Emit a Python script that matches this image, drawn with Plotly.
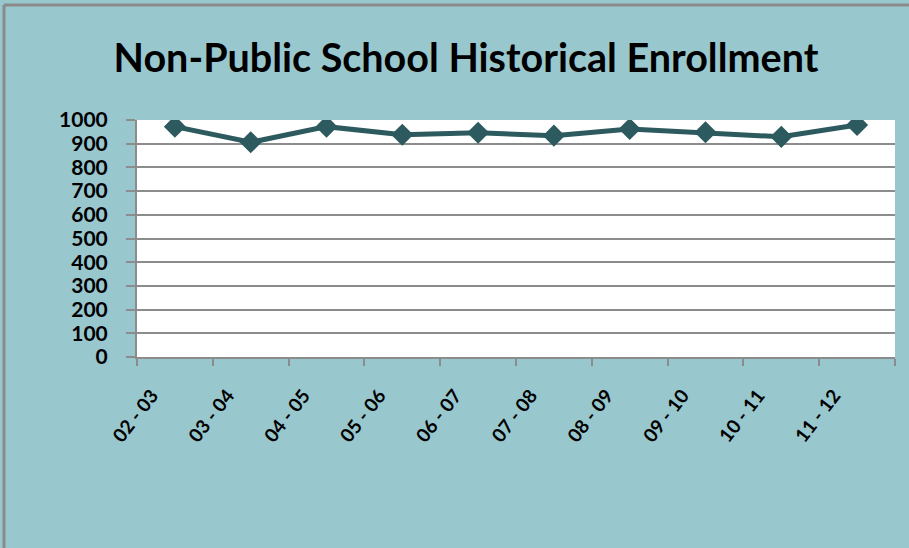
import plotly.graph_objects as go

# School years and enrollment counts
years = ["02 - 03", "03 - 04", "04 - 05", "05 - 06", "06 - 07",
         "07 - 08", "08 - 09", "09 - 10", "10 - 11", "11 - 12"]
enrollment = [972, 906, 972, 938, 946, 934, 962, 948, 929, 979]
y_ticks = [0, 100, 200, 300, 400, 500, 600, 700, 800, 900, 1000]

W, H = 909, 548
L, R, T, B = 137, 895, 120, 357  # plot area in pixels

BG = "#99C7CE"
LINE = "#2D5A5E"
GRID = "#8C8C8C"
FONT = "Lato"

fig = go.Figure()
fig.add_trace(go.Scatter(
    x=years, y=enrollment, mode="lines+markers",
    line=dict(color=LINE, width=5),
    marker=dict(symbol="diamond", size=17, color=LINE),
    showlegend=False, hoverinfo="x+y",
))

def px_x(p):
    return (p - L) / (R - L)

def px_y(p):
    return (B - p) / (B - T)

# frame lines along the top and left edges of the chart
fig.add_shape(type="line", xref="paper", yref="paper",
              x0=px_x(4), x1=px_x(912), y0=px_y(5), y1=px_y(5),
              line=dict(color="#8A8A8A", width=3))
fig.add_shape(type="line", xref="paper", yref="paper",
              x0=px_x(4), x1=px_x(4), y0=px_y(5), y1=px_y(552),
              line=dict(color="#8A8A8A", width=3))

fig.update_layout(
    width=W, height=H,
    margin=dict(l=L, r=W - R, t=T, b=H - B, pad=0),
    paper_bgcolor=BG, plot_bgcolor="white",
    title=dict(text="Non-Public School Historical Enrollment",
               font=dict(family=FONT, size=39.5, color="black", weight="bold"),
               x=466 / W, xanchor="center", y=1 - 58 / H, yanchor="middle",
               xref="container", yref="container"),
    font=dict(family=FONT, color="black"),
)
fig.update_xaxes(
    type="category", range=[-0.5, len(years) - 0.5],
    tickson="boundaries", ticks="outside", ticklen=7, tickwidth=2, tickcolor=GRID,
    showgrid=False, showline=True, linecolor=GRID, linewidth=2,
    tickangle=-52, tickfont=dict(family=FONT, size=19, color="black", weight="bold"),
    ticklabelstandoff=18, ticklabelshift=-23,
)
fig.update_yaxes(
    range=[0, 1000], tickvals=y_ticks,
    ticks="outside", ticklen=9, tickwidth=2, tickcolor=GRID,
    showgrid=True, gridcolor=GRID, gridwidth=2,
    showline=True, linecolor=GRID, linewidth=2, zeroline=False,
    tickfont=dict(family=FONT, size=21, color="black", weight="bold"),
    ticklabelstandoff=14,
)

fig.write_html("out.html")
